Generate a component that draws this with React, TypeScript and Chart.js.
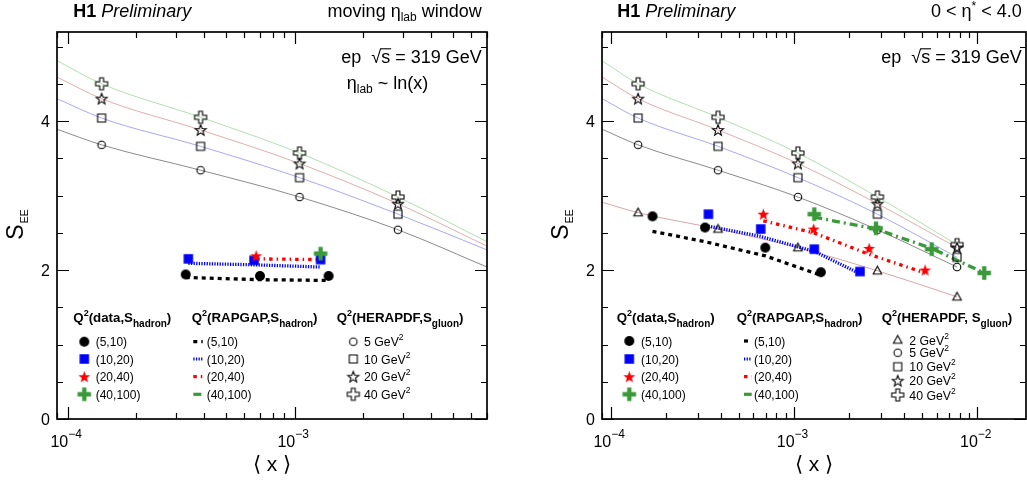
import { useEffect, useRef } from "react";
import { Chart, registerables } from "chart.js";
Chart.register(...registerables);

// ---------------- data ----------------
// HERAPDF (S_gluon) predictions, markers at these <x>
const HERA_X = [1.41e-4, 3.85e-4, 1.05e-3, 2.85e-3, 7.75e-3];
const HERA_Q2 = [2, 5, 10, 20, 40];
const HERA_Q2_2 = [2.77, 2.55, 2.3, 1.99, 1.64];
const HERA_Q2_5 = [3.68, 3.34, 2.98, 2.54, 2.04];
const HERA_Q2_10 = [4.04, 3.66, 3.24, 2.75, 2.17];
const HERA_Q2_20 = [4.3, 3.88, 3.43, 2.89, 2.3];
const HERA_Q2_40 = [4.5, 4.05, 3.57, 2.98, 2.34];
// HERAPDF curve values at the low-x edge (Q2 = 2,5,10,20,40) and the high-x edge of the left panel (Q2 = 5,10,20,40)
const CURVE_X_LOW = 8.97e-5;
const CURVE_X_HIGH_LEFT = 7.03e-3;
const CURVE_LOW_Y = [2.91, 3.89, 4.3, 4.59, 4.81];
const CURVE_HIGH_Y_LEFT = [2.04, 2.27, 2.32, 2.38];

// Left panel: moving eta_lab window
const L_D5_X = [3.31e-4, 7.03e-4, 1.41e-3];
const L_D5_Y = [1.94, 1.92, 1.92];
const L_D10_X = [3.4e-4, 6.62e-4, 1.3e-3];
const L_D10_Y = [2.15, 2.13, 2.14];
const L_D20_X = [6.76e-4];
const L_D20_Y = [2.19];
const L_D40_X = [1.3e-3];
const L_D40_Y = [2.22];
const L_RG5_Y = [1.9, 1.87, 1.86];
const L_RG10_Y = [2.09, 2.07, 2.04];
const L_RG20_X = [6.76e-4, 1.3e-3];
const L_RG20_Y = [2.15, 2.14];

// Right panel: 0 < eta* < 4.0
const R_D5_X = [1.69e-4, 3.27e-4, 6.97e-4, 1.4e-3];
const R_D5_Y = [2.72, 2.57, 2.3, 1.97];
const R_D10_X = [3.41e-4, 6.58e-4, 1.29e-3, 2.29e-3];
const R_D10_Y = [2.75, 2.55, 2.28, 1.98];
const R_D20_X = [6.8e-4, 1.28e-3, 2.57e-3, 5.19e-3];
const R_D20_Y = [2.75, 2.55, 2.29, 2.0];
const R_D40_X = [1.29e-3, 2.8e-3, 5.64e-3, 1.09e-2];
const R_D40_Y = [2.75, 2.56, 2.28, 1.96];
const R_RG5_Y = [2.52, 2.38, 2.19, 1.93];
const R_RG10_Y = [2.59, 2.45, 2.25, 1.95];
const R_RG20_Y = [2.66, 2.5, 2.21, 1.96];
const R_RG40_Y = [2.71, 2.55, 2.29, 1.96];

const DATA_LABELS = ["(5,10)", "(10,20)", "(20,40)", "(40,100)"];
const X_TICK_EXP = [-4, -3, -2];
const Y_TICK_LABELS = [0, 2, 4];
const LEFT_X_RANGE = [8.97e-5, 7.03e-3];
const RIGHT_X_RANGE = [8.96e-5, 1.843e-2];
const Y_RANGE = [0, 5.195];

// ---------------- styles ----------------
const FF = '"Liberation Sans", Arial, Helvetica, sans-serif';
const F = (size: number, style = "") => `${style} ${size}px ${FF}`;
const GREEN = "#3a9a3a";
const BLUE = "#0000ff";
const RED = "#ff0000";
const CURVE_COL = {
  q2: "rgba(200,130,130,0.7)",
  q5: "rgba(90,90,90,0.7)",
  q10: "rgba(110,110,240,0.6)",
  q20: "rgba(205,120,120,0.6)",
  q40: "rgba(130,200,130,0.6)",
};
const DASH = {
  d5: [4, 4],
  d10: [1.3, 1.3],
  d20: [3.5, 4, 1.5, 4],
  d40: [8, 4, 2, 4],
};

function shapePath(g: CanvasRenderingContext2D, kind: string, size: number) {
  const r = size / 2;
  g.beginPath();
  if (kind === "circle") g.arc(0, 0, r, 0, Math.PI * 2);
  else if (kind === "square") g.rect(-r, -r, size, size);
  else if (kind === "triangle") {
    g.moveTo(0, -r);
    g.lineTo(r * 0.95, r * 0.72);
    g.lineTo(-r * 0.95, r * 0.72);
    g.closePath();
  } else if (kind === "star") {
    for (let i = 0; i < 10; i++) {
      const a = -Math.PI / 2 + (i * Math.PI) / 5;
      const rr = i % 2 ? r * 0.42 : r;
      const px = rr * Math.cos(a);
      const py = rr * Math.sin(a) + r * 0.08;
      if (i === 0) g.moveTo(px, py);
      else g.lineTo(px, py);
    }
    g.closePath();
  } else if (kind === "cross") {
    const t = size / 6.2;
    const P = [
      [-t, -r], [t, -r], [t, -t], [r, -t], [r, t], [t, t],
      [t, r], [-t, r], [-t, t], [-r, t], [-r, -t], [-t, -t],
    ];
    P.forEach(([a, b], i) => (i ? g.lineTo(a, b) : g.moveTo(a, b)));
    g.closePath();
  }
}

function markerImg(kind: string, size: number, fill: string | null, stroke: string | null, lw = 1) {
  const s = Math.ceil(size + 6);
  const c = document.createElement("canvas");
  c.width = s;
  c.height = s;
  const g = c.getContext("2d")!;
  g.translate(s / 2, s / 2);
  shapePath(g, kind, size);
  if (fill) {
    g.fillStyle = fill;
    g.fill();
  }
  if (stroke) {
    g.strokeStyle = stroke;
    g.lineWidth = lw;
    g.stroke();
  }
  return c;
}

function makeMarkers() {
  return {
    d5: markerImg("circle", 10, "#000", null),
    d10: markerImg("square", 9.5, BLUE, null),
    d20: markerImg("star", 12.5, RED, null),
    d40: markerImg("cross", 13.5, GREEN, null),
    h2: markerImg("triangle", 9, null, "#000", 1.1),
    h5: markerImg("circle", 7.5, null, "#000", 1.1),
    h10: markerImg("square", 8, null, "#000", 1.1),
    h20: markerImg("star", 11.5, null, "#000", 1.1),
    h40: markerImg("cross", 12, null, "#000", 1.1),
  };
}

const pts = (xs: number[], ys: number[]) => xs.map((x, i) => ({ x, y: ys[i] }));
const curve = (xs: number[], ys: number[], color: string) => ({
  data: pts(xs, ys),
  showLine: true,
  borderColor: color,
  borderWidth: 1,
  pointRadius: 0,
  cubicInterpolationMode: "monotone",
  order: 50,
});
const rapgap = (xs: number[], ys: number[], color: string, dash: number[]) => ({
  data: pts(xs, ys),
  showLine: true,
  borderColor: color,
  borderWidth: 3.3,
  borderDash: dash,
  pointRadius: 0,
  order: 40,
});
const marks = (xs: number[], ys: number[], img: any, order: number) => ({
  data: pts(xs, ys),
  showLine: false,
  pointStyle: img,
  pointRadius: 5,
  order,
});

type Seg = { t: string; f: string; dy?: number; over?: boolean };
function rich(ctx: CanvasRenderingContext2D, x: number, y: number, segs: Seg[], align = "left") {
  ctx.save();
  ctx.textAlign = "left";
  ctx.textBaseline = "alphabetic";
  ctx.fillStyle = "#000";
  ctx.strokeStyle = "#000";
  let w = 0;
  const ws = segs.map((s) => {
    ctx.font = s.f;
    const m = ctx.measureText(s.t).width;
    w += m;
    return m;
  });
  let cx = align === "left" ? x : align === "right" ? x - w : x - w / 2;
  segs.forEach((s, i) => {
    ctx.font = s.f;
    ctx.fillText(s.t, cx, y + (s.dy || 0));
    if (s.over) {
      ctx.lineWidth = 1.1;
      ctx.beginPath();
      ctx.moveTo(cx - 1, y - 14.5);
      ctx.lineTo(cx + ws[i] + 1, y - 14.5);
      ctx.stroke();
    }
    cx += ws[i];
  });
  ctx.restore();
}

function drawFrame(ctx: CanvasRenderingContext2D, chart: any) {
  const a = chart.chartArea;
  const xs = chart.scales.x;
  const ys = chart.scales.y;
  ctx.save();
  ctx.strokeStyle = "#000";
  ctx.lineWidth = 1.2;
  ctx.beginPath();
  for (let d = -5; d <= -1; d++)
    for (let m = 1; m <= 9; m++) {
      const v = m * Math.pow(10, d);
      if (v < xs.min || v > xs.max) continue;
      const px = Math.round(xs.getPixelForValue(v)) + 0.5;
      const len = m === 1 ? 12 : 6;
      ctx.moveTo(px, a.bottom);
      ctx.lineTo(px, a.bottom - len);
      ctx.moveTo(px, a.top);
      ctx.lineTo(px, a.top + len);
    }
  for (let k = 0; k <= 12; k++) {
    const v = k * 0.5;
    if (v > ys.max) continue;
    const py = Math.round(ys.getPixelForValue(v)) + 0.5;
    const len = k % 4 === 0 ? 12 : 6;
    ctx.moveTo(a.left, py);
    ctx.lineTo(a.left + len, py);
    ctx.moveTo(a.right, py);
    ctx.lineTo(a.right - len, py);
  }
  ctx.stroke();
  ctx.lineWidth = 1.7;
  ctx.strokeRect(a.left, a.top, a.right - a.left, a.bottom - a.top);

  // y tick labels
  ctx.fillStyle = "#000";
  ctx.font = F(16);
  ctx.textAlign = "right";
  ctx.textBaseline = "alphabetic";
  Y_TICK_LABELS.forEach((v) => {
    const py = ys.getPixelForValue(v);
    ctx.fillText(String(v), a.left - 7, py + 6);
  });
  // x tick labels 10^n
  X_TICK_EXP.forEach((e) => {
    const v = Math.pow(10, e);
    if (v < xs.min || v > xs.max) return;
    const px = xs.getPixelForValue(v);
    ctx.textAlign = "right";
    ctx.font = F(16);
    ctx.fillText("10", px + 0.5, 446.5);
    ctx.textAlign = "left";
    ctx.font = F(12);
    ctx.fillText("\u2212" + String(-e), px + 0.5, 438);
  });
  // x title
  ctx.textAlign = "center";
  ctx.font = F(21);
  ctx.fillText("\u27E8 x \u27E9", (a.left + a.right) / 2, 471);
  // y title S_EE rotated
  ctx.save();
  ctx.translate(a.left - 34, 225);
  ctx.rotate(-Math.PI / 2);
  ctx.textAlign = "left";
  ctx.font = F(23);
  const wS = ctx.measureText("S").width;
  ctx.font = F(10.5);
  const wE = ctx.measureText("EE").width;
  const x0 = -(wS + wE) / 2;
  ctx.font = F(23);
  ctx.fillText("S", x0, 0);
  ctx.font = F(10.5);
  ctx.fillText("EE", x0 + wS + 1, 5);
  ctx.restore();
  ctx.restore();
}

type LegendSpec = {
  headX: number[];
  headY: number;
  rowsY: number[];
  dataMarkX: number;
  dataTextX: number;
  rgX: number[];
  rgTextX: number;
  heraMarkX: number;
  heraTextX: number;
  heraRowsY: number[];
  heraIdx: number[];
  heraHead: string;
};

function drawLegend(ctx: CanvasRenderingContext2D, L: LegendSpec, M: any, ox: number) {
  const X = (v: number) => v - ox;
  const hb = F(13.3, "bold");
  const sup = F(9, "bold");
  const sub = F(10, "bold");
  rich(ctx, X(L.headX[0]), L.headY, [
    { t: "Q", f: hb }, { t: "2", f: sup, dy: -6 }, { t: "(data,S", f: hb }, { t: "hadron", f: sub, dy: 5 }, { t: ")", f: hb },
  ]);
  rich(ctx, X(L.headX[1]), L.headY, [
    { t: "Q", f: hb }, { t: "2", f: sup, dy: -6 }, { t: "(RAPGAP,S", f: hb }, { t: "hadron", f: sub, dy: 5 }, { t: ")", f: hb },
  ]);
  rich(ctx, X(L.headX[2]), L.headY, [
    { t: "Q", f: hb }, { t: "2", f: sup, dy: -6 }, { t: L.heraHead, f: hb }, { t: "gluon", f: sub, dy: 5 }, { t: ")", f: hb },
  ]);
  const dataImgs = [M.d5, M.d10, M.d20, M.d40];
  const rgCols = ["#000", BLUE, RED, GREEN];
  const rgDash = [DASH.d5, DASH.d10, DASH.d20, DASH.d40];
  ctx.save();
  ctx.fillStyle = "#000";
  ctx.textBaseline = "alphabetic";
  ctx.textAlign = "left";
  L.rowsY.forEach((y, i) => {
    const img = dataImgs[i];
    ctx.drawImage(img, X(L.dataMarkX) - img.width / 2, y - img.height / 2);
    ctx.font = F(12);
    ctx.fillText(DATA_LABELS[i], X(L.dataTextX), y + 4.5);
    ctx.save();
    ctx.strokeStyle = rgCols[i];
    ctx.lineWidth = 3.2;
    ctx.setLineDash(rgDash[i]);
    ctx.beginPath();
    ctx.moveTo(X(L.rgX[0]), y);
    ctx.lineTo(X(L.rgX[1]), y);
    ctx.stroke();
    ctx.restore();
    ctx.fillText(DATA_LABELS[i], X(L.rgTextX), y + 4.5);
  });
  const heraImgs = [M.h2, M.h5, M.h10, M.h20, M.h40];
  L.heraRowsY.forEach((y, j) => {
    const idx = L.heraIdx[j];
    const img = heraImgs[idx];
    ctx.drawImage(img, X(L.heraMarkX) - img.width / 2, y - img.height / 2);
    rich(ctx, X(L.heraTextX), y + 4.5, [
      { t: HERA_Q2[idx] + " GeV", f: F(12.3) },
      { t: "2", f: F(8.5), dy: -6 },
    ]);
  });
  ctx.restore();
}

function heraCurveData(panel: "left" | "right") {
  const series = [HERA_Q2_2, HERA_Q2_5, HERA_Q2_10, HERA_Q2_20, HERA_Q2_40];
  const cols = [CURVE_COL.q2, CURVE_COL.q5, CURVE_COL.q10, CURVE_COL.q20, CURVE_COL.q40];
  const out: any[] = [];
  series.forEach((ys, i) => {
    if (panel === "left") {
      if (i === 0) return;
      out.push(
        curve(
          [CURVE_X_LOW, ...HERA_X.slice(0, 4), CURVE_X_HIGH_LEFT],
          [CURVE_LOW_Y[i], ...ys.slice(0, 4), CURVE_HIGH_Y_LEFT[i - 1]],
          cols[i]
        )
      );
    } else {
      out.push(curve([CURVE_X_LOW, ...HERA_X], [CURVE_LOW_Y[i], ...ys], cols[i]));
    }
  });
  return out;
}

function heraMarks(panel: "left" | "right", M: any) {
  const series = [HERA_Q2_2, HERA_Q2_5, HERA_Q2_10, HERA_Q2_20, HERA_Q2_40];
  const imgs = [M.h2, M.h5, M.h10, M.h20, M.h40];
  const out: any[] = [];
  series.forEach((ys, i) => {
    if (panel === "left") {
      if (i === 0) return;
      out.push(marks(HERA_X.slice(0, 4), ys.slice(0, 4), imgs[i], 30 - i));
    } else out.push(marks(HERA_X, ys, imgs[i], 30 - i));
  });
  return out;
}

function buildConfig(panel: "left" | "right", M: any) {
  const isL = panel === "left";
  const ox = isL ? 0 : 514;
  const datasets: any[] = [...heraCurveData(panel)];
  if (isL) {
    datasets.push(
      rapgap(L_D5_X, L_RG5_Y, "#000", DASH.d5),
      rapgap(L_D10_X, L_RG10_Y, BLUE, DASH.d10),
      rapgap(L_RG20_X, L_RG20_Y, RED, DASH.d20),
      ...heraMarks(panel, M),
      marks(L_D5_X, L_D5_Y, M.d5, 14),
      marks(L_D10_X, L_D10_Y, M.d10, 13),
      marks(L_D20_X, L_D20_Y, M.d20, 12),
      marks(L_D40_X, L_D40_Y, M.d40, 11)
    );
  } else {
    datasets.push(
      rapgap(R_D5_X, R_RG5_Y, "#000", DASH.d5),
      rapgap(R_D10_X, R_RG10_Y, BLUE, DASH.d10),
      rapgap(R_D20_X, R_RG20_Y, RED, DASH.d20),
      rapgap(R_D40_X, R_RG40_Y, GREEN, DASH.d40),
      ...heraMarks(panel, M),
      marks(R_D5_X, R_D5_Y, M.d5, 14),
      marks(R_D10_X, R_D10_Y, M.d10, 13),
      marks(R_D20_X, R_D20_Y, M.d20, 12),
      marks(R_D40_X, R_D40_Y, M.d40, 11)
    );
  }
  const xr = isL ? LEFT_X_RANGE : RIGHT_X_RANGE;
  const legend: LegendSpec = isL
    ? {
        headX: [73.3, 191.7, 336.7],
        headY: 321.7,
        rowsY: [341.7, 359, 376.7, 394.3],
        dataMarkX: 84.3,
        dataTextX: 95.7,
        rgX: [193.3, 202.7],
        rgTextX: 206.7,
        heraMarkX: 353.3,
        heraTextX: 364,
        heraRowsY: [341.7, 359, 376.7, 394.3],
        heraIdx: [1, 2, 3, 4],
        heraHead: "(HERAPDF,S",
      }
    : {
        headX: [616.7, 736.7, 881.7],
        headY: 321.7,
        rowsY: [341, 359, 376.7, 394.3],
        dataMarkX: 629.3,
        dataTextX: 641,
        rgX: [744, 751.7],
        rgTextX: 754,
        heraMarkX: 897.7,
        heraTextX: 909.3,
        heraRowsY: [340, 352.7, 366.7, 380.7, 395],
        heraIdx: [0, 1, 2, 3, 4],
        heraHead: "(HERAPDF, S",
      };
  const deco = {
    id: "deco" + panel,
    afterDraw(chart: any) {
      const ctx = chart.ctx as CanvasRenderingContext2D;
      drawFrame(ctx, chart);
      const X = (v: number) => v - ox;
      const T = F(18);
      rich(ctx, X(isL ? 73.3 : 617.3), 16.7, [
        { t: "H1 ", f: F(18, "bold") },
        { t: "Preliminary", f: F(18, "italic") },
      ]);
      const rx = X(isL ? 481.7 : 1021.7);
      if (isL) {
        rich(ctx, rx, 16.7, [
          { t: "moving \u03B7", f: T },
          { t: "lab", f: F(12), dy: 4 },
          { t: " window", f: T },
        ], "right");
      } else {
        rich(ctx, rx, 16.7, [
          { t: "0 < \u03B7", f: T },
          { t: "*", f: F(12), dy: -7 },
          { t: " < 4.0", f: T },
        ], "right");
      }
      rich(ctx, rx, 63.3, [
        { t: "ep  \u221A", f: T },
        { t: "s", f: T, over: true },
        { t: " = 319 GeV", f: T },
      ], "right");
      if (isL) {
        rich(ctx, X(346.7), 89, [
          { t: "\u03B7", f: T },
          { t: "lab", f: F(12), dy: 4 },
          { t: " ~ ln(x)", f: T },
        ]);
      }
      drawLegend(ctx, legend, M, ox);
    },
  };
  return {
    type: "scatter",
    data: { datasets },
    options: {
      responsive: false,
      animation: false,
      events: [],
      layout: { padding: isL ? { left: 57, right: 26, top: 32, bottom: 65 } : { left: 88, right: 8, top: 32, bottom: 65 } },
      scales: {
        x: { type: "logarithmic", min: xr[0], max: xr[1], display: false, bounds: "data" },
        y: { type: "linear", min: Y_RANGE[0], max: Y_RANGE[1], display: false, bounds: "data" },
      },
      plugins: { legend: { display: false }, tooltip: { enabled: false } },
    },
    plugins: [deco],
  } as any;
}

export default function App() {
  const leftRef = useRef<HTMLCanvasElement>(null);
  const rightRef = useRef<HTMLCanvasElement>(null);
  useEffect(() => {
    const M = makeMarkers();
    const c1 = new Chart(leftRef.current!, buildConfig("left", M));
    const c2 = new Chart(rightRef.current!, buildConfig("right", M));
    return () => {
      c1.destroy();
      c2.destroy();
    };
  }, []);
  return (
    <div style={{ position: "fixed", left: 0, top: 0, width: 1027, height: 484, overflow: "hidden", background: "#fff" }}>
      <canvas ref={leftRef} width={513} height={484} style={{ position: "absolute", left: 0, top: 0, width: 513, height: 484 }} />
      <canvas ref={rightRef} width={520} height={484} style={{ position: "absolute", left: 514, top: 0, width: 520, height: 484 }} />
    </div>
  );
}
